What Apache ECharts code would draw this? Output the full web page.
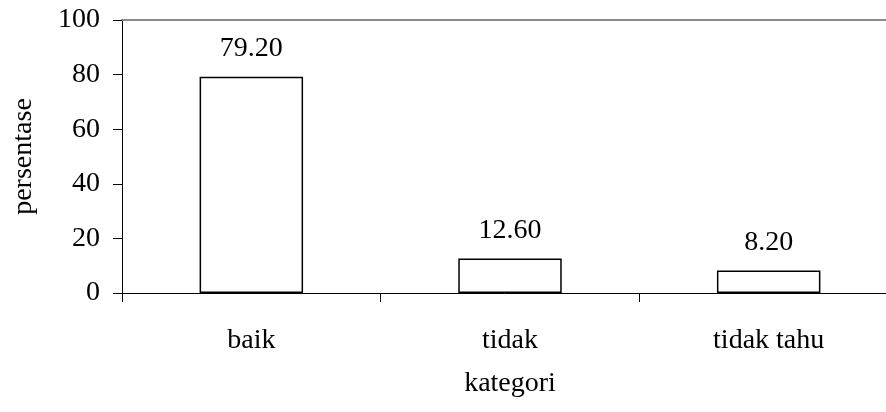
<!DOCTYPE html>
<html>
<head>
<meta charset="utf-8">
<script src="https://cdn.jsdelivr.net/npm/echarts@6/dist/echarts.min.js"></script>
<style>
  html, body { margin: 0; padding: 0; background: #fff; }
  #chart { width: 886px; height: 412px; }
</style>
</head>
<body>
<div id="chart"></div>
<script>
// Survey result: share of respondents per answer category
const categories = ['baik', 'tidak', 'tidak tahu'];
const persentase = [79.20, 12.60, 8.20];
const yTicks = { min: 0, max: 100, interval: 20 };

const FONT = '"Liberation Serif", "Times New Roman", serif';
const FS = 28;
const chart = echarts.init(document.getElementById('chart'), null, { renderer: 'canvas' });

chart.setOption({
  backgroundColor: '#ffffff',
  animation: false,
  textStyle: { fontFamily: FONT, color: '#000' },
  grid: { left: 122, top: 20, width: 776, height: 273, containLabel: false, outerBoundsMode: 'none' },
  xAxis: [
    {
      type: 'category',
      data: categories,
      position: 'bottom',
      name: 'kategori',
      nameLocation: 'middle',
      nameGap: 77,
      nameTextStyle: { fontFamily: FONT, fontSize: FS, color: '#000' },
      axisLine: { show: true, onZero: false, lineStyle: { color: '#000', width: 1 } },
      axisTick: { show: true, inside: false, length: 9, alignWithLabel: false, lineStyle: { color: '#000' } },
      axisLabel: { fontFamily: FONT, fontSize: FS, color: '#000', margin: 34 },
      splitLine: { show: false }
    },
    {
      // top frame line of the plot area
      type: 'category',
      data: categories,
      position: 'top',
      axisLine: { show: true, onZero: false, lineStyle: { color: '#8a8a8a', width: 2 } },
      axisTick: { show: false },
      axisLabel: { show: false },
      splitLine: { show: false }
    }
  ],
  yAxis: {
    type: 'value',
    min: yTicks.min,
    max: yTicks.max,
    interval: yTicks.interval,
    name: 'persentase',
    nameLocation: 'middle',
    nameGap: 84,
    nameRotate: 90,
    nameTextStyle: { fontFamily: FONT, fontSize: FS, color: '#000' },
    axisLine: { show: true, lineStyle: { color: '#000', width: 1 } },
    axisTick: { show: true, inside: false, length: 9, lineStyle: { color: '#000' } },
    axisLabel: { fontFamily: FONT, fontSize: FS, color: '#000', margin: 22 },
    splitLine: { show: false }
  },
  series: [{
    type: 'bar',
    data: persentase,
    barWidth: '40%',
    itemStyle: { color: '#ffffff', borderColor: '#000', borderWidth: 1.5 },
    label: {
      show: true,
      position: 'top',
      distance: 14,
      fontFamily: FONT,
      fontSize: FS,
      color: '#000',
      formatter: p => p.value.toFixed(2)
    }
  }]
});
</script>
</body>
</html>
